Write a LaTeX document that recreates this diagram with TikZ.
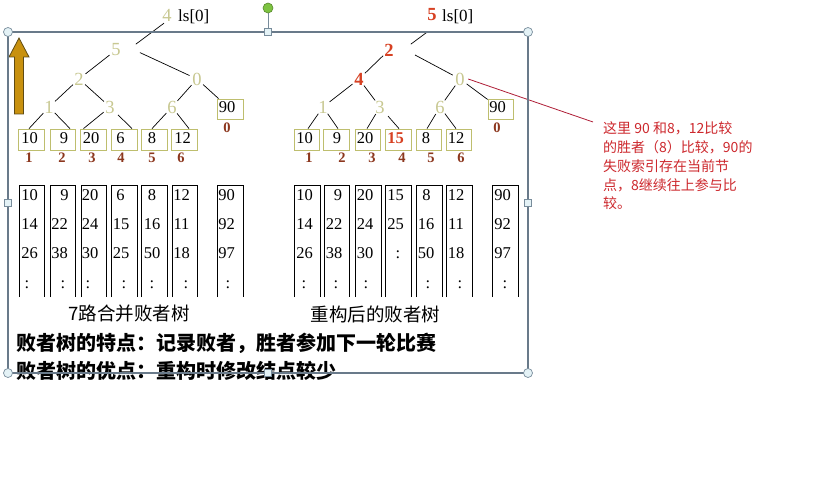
\documentclass[tikz,border=0pt]{standalone}
\usepackage{fontspec}
\setmainfont{Liberation Serif}
\newfontfamily\cjk{Noto Sans CJK SC}
\definecolor{khaki}{RGB}{200,200,145}
\definecolor{boxc}{RGB}{190,190,110}
\definecolor{labc}{RGB}{140,55,30}
\definecolor{redb}{RGB}{215,65,35}
\definecolor{annc}{RGB}{205,40,45}
\definecolor{annl}{RGB}{175,30,55}
\definecolor{arrf}{RGB}{200,145,15}
\definecolor{arrd}{RGB}{95,75,20}
\definecolor{framec}{RGB}{105,122,138}
\definecolor{handf}{RGB}{228,242,246}
\definecolor{handd}{RGB}{120,140,155}
\definecolor{greenh}{RGB}{125,195,65}
\begin{document}
\begin{tikzpicture}[x=1pt,y=-1pt,
  tnum/.style={circle,inner sep=0pt,minimum size=16pt,text=khaki,font=\fontsize{18.5}{18.5}\selectfont},
  rnum/.style={tnum,text=redb,font=\fontsize{18.5}{18.5}\selectfont\bfseries},
  lsl/.style={anchor=base west,inner sep=0pt,font=\fontsize{17}{17}\selectfont},
  leafbox/.style={draw=boxc,line width=0.8pt,minimum width=25.5pt,minimum height=21pt,inner sep=0pt},
  btxt/.style={anchor=base,inner sep=0pt,font=\fontsize{16.5}{16.5}\selectfont},
  labtxt/.style={inner sep=0pt,text=labc,font=\fontsize{14.5}{14.5}\selectfont\bfseries},
  celltxt/.style={anchor=base,inner sep=0pt,font=\fontsize{16.5}{16.5}\selectfont},
  colline/.style={draw=black,line width=0.9pt},
  tline/.style={draw=black,line width=0.7pt},
  captxt/.style={inner sep=0pt,font=\cjk\fontsize{18.5}{18.5}\selectfont},
  boldtxt/.style={anchor=west,inner sep=0pt,font=\cjk\bfseries\fontsize{20}{20}\selectfont},
  anntxt/.style={anchor=base west,inner sep=0pt,text=annc,font=\cjk\fontsize{14}{14}\selectfont},
  handlemark/.style={fill=handf,draw=handd,line width=0.7pt}
]
\fill[white] (0,0) rectangle (816,494);
\useasboundingbox (0,0) rectangle (816,494);

% golden arrow
\filldraw[fill=arrf,draw=arrd,line width=0.8pt] (19,38) -- (29,57) -- (23.5,57) -- (23.5,114) -- (14.5,114) -- (14.5,57) -- (9,57) -- cycle;

% ---------------- left tree ----------------
\node[tnum] (L4) at (167,15) {4};
\node[lsl] (Lls) at (178,21.3) {ls[0]};
\node[tnum] (L5) at (116,50) {5};
\node[tnum] (L2) at (79,79) {2};
\node[tnum] (L0) at (197,79) {0};
\node[tnum] (L1) at (49,107) {1};
\node[tnum] (L3) at (110,107) {3};
\node[tnum] (L6) at (172,107) {6};
\node[leafbox,minimum width=26pt,minimum height=20pt] (Lb0) at (230,109) {};
\node[leafbox] (Lb1) at (31.5,139.5) {};
\node[leafbox] (Lb2) at (63,139.5) {};
\node[leafbox] (Lb3) at (93.5,139.5) {};
\node[leafbox] (Lb4) at (124.5,139.5) {};
\node[leafbox] (Lb5) at (154.5,139.5) {};
\node[leafbox] (Lb6) at (184.5,139.5) {};
\node[btxt] (Lt0) at (227,112.8) {90};
\node[btxt] (Lt1) at (29.5,143.2) {10};
\node[btxt] (Lt2) at (64,143.2) {9};
\node[btxt] (Lt3) at (91,143.2) {20};
\node[btxt] (Lt4) at (120.5,143.2) {6};
\node[btxt] (Lt5) at (152,143.2) {8};
\node[btxt] (Lt6) at (182.5,143.2) {12};
\node[labtxt] (Ll0) at (227,128) {0};
\node[labtxt] (Ll1) at (29,158) {1};
\node[labtxt] (Ll2) at (62,158) {2};
\node[labtxt] (Ll3) at (92,158) {3};
\node[labtxt] (Ll4) at (121,158) {4};
\node[labtxt] (Ll5) at (152,158) {5};
\node[labtxt] (Ll6) at (181,158) {6};

\draw[tline] ([xshift=-3pt]L4.south) -- ([xshift=14pt]L5.north east);
\draw[tline] (L5) -- (L2);
\draw[tline,shorten <=20pt] (L5.north east) -- (L0);
\draw[tline] (L2) -- (L1);
\draw[tline] (L2) -- (L3);
\draw[tline] (L0) -- (L6);
\draw[tline] (L0) -- (Lb0);
\draw[tline] (L1) -- ([xshift=-2.5pt]Lb1.north);
\draw[tline] (L1) -- ([xshift=7pt]Lb2.north);
\draw[tline] (L3) -- ([xshift=-10pt]Lb3.north);
\draw[tline,shorten <=3pt] (L3) -- ([xshift=7.5pt]Lb4.north);
\draw[tline] (L6) -- ([xshift=-2.5pt]Lb5.north);
\draw[tline] (L6) -- ([xshift=4.5pt]Lb6.north);

% ---------------- right tree ----------------
\node[rnum] (R5) at (432,15) {5};
\node[lsl] (Rls) at (442,21.5) {ls[0]};
\node[rnum] (R2) at (389,50) {2};
\node[rnum] (R4) at (359,79) {4};
\node[tnum] (R0) at (460,79) {0};
\node[tnum] (R1) at (323,107) {1};
\node[tnum] (R3) at (380,107) {3};
\node[tnum] (R6) at (440,107) {6};
\node[leafbox,minimum width=25pt,minimum height=20pt] (Rb0) at (500.5,109) {};
\node[leafbox] (Rb1) at (307,139.5) {};
\node[leafbox] (Rb2) at (336.5,139.5) {};
\node[leafbox] (Rb3) at (368,139.5) {};
\node[leafbox] (Rb4) at (398.5,139.5) {};
\node[leafbox] (Rb5) at (429,139.5) {};
\node[leafbox] (Rb6) at (459,139.5) {};
\node[btxt] (Rt0) at (497.5,112.8) {90};
\node[btxt] (Rt1) at (304.5,143.2) {10};
\node[btxt] (Rt2) at (337,143.2) {9};
\node[btxt] (Rt3) at (365,143.2) {20};
\node[btxt,text=redb,font=\fontsize{16.5}{16.5}\selectfont\bfseries] (Rt4) at (395.5,143.2) {15};
\node[btxt] (Rt5) at (426,143.2) {8};
\node[btxt] (Rt6) at (456,143.2) {12};
\node[labtxt] (Rl0) at (497,128) {0};
\node[labtxt] (Rl1) at (309,158) {1};
\node[labtxt] (Rl2) at (342,158) {2};
\node[labtxt] (Rl3) at (372,158) {3};
\node[labtxt] (Rl4) at (402,158) {4};
\node[labtxt] (Rl5) at (431,158) {5};
\node[labtxt] (Rl6) at (461,158) {6};

\draw[tline] ([xshift=-5pt,yshift=-9pt]R5.south) -- ([xshift=16pt]R2.north east);
\draw[tline] (R2) -- (R4);
\draw[tline,shorten <=23pt] (R2.north east) -- (R0);
\draw[tline] (R4) -- (R1);
\draw[tline] (R4) -- (R3);
\draw[tline] (R0) -- (R6);
\draw[tline] (R0) -- (Rb0);
\draw[tline] (R1) -- ([xshift=1pt]Rb1.north);
\draw[tline] (R1) -- ([xshift=1.5pt]Rb2.north);
\draw[tline] (R3) -- ([xshift=-1pt]Rb3.north);
\draw[tline,shorten <=4pt] (R3) -- ([xshift=0.5pt]Rb4.north);
\draw[tline] (R6) -- ([xshift=-2pt]Rb5.north);
\draw[tline] (R6) -- ([xshift=-3pt]Rb6.north);

% ---------------- run columns ----------------
\foreach \a/\b in {19/44,50/75,81/106,111/137,141/167,172/197,217/243,
                   294/320,324/349,355/381,385/411,416/442,446/472,492/518}
  \draw[colline] (\a,297) -- (\a,185) -- (\b,185) -- (\b,297);

\foreach \cx/\cy/\ct [count=\i] in {
  29.5/200.5/10, 29.5/229.5/14, 29.5/258.5/26, 27/288.5/:,
  64.5/200.5/9, 59.5/229.5/22, 59.5/258.5/38, 63/288.5/:,
  90/200.5/20, 90/229.5/24, 90/258.5/30, 88/288.5/:,
  120.5/200.5/6, 121/229.5/15, 121/258.5/25, 124/288.5/:,
  152/200.5/8, 152/229.5/16, 152/258.5/50, 152/288.5/:,
  181.5/200.5/12, 181.5/229.5/11, 181.5/258.5/18, 186/288.5/:,
  226.5/200.5/90, 226.5/229.5/92, 226.5/258.5/97, 228/288.5/:}
  \node[celltxt] (lc\i) at (\cx,\cy) {\ct};

\foreach \cx/\cy/\ct [count=\i] in {
  304.5/200.5/10, 304.5/229.5/14, 304.5/258.5/26, 304/288.5/:,
  338/200.5/9, 334/229.5/22, 334/258.5/38, 336/288.5/:,
  365/200.5/20, 365/229.5/24, 365/258.5/30, 366/288.5/:,
  395.5/200.5/15, 395.5/229.5/25, 398/258.5/:,
  426.5/200.5/8, 426/229.5/16, 426/258.5/50, 428/288.5/:,
  456/200.5/12, 456/229.5/11, 456/258.5/18, 460/288.5/:,
  502.5/200.5/90, 502.5/229.5/92, 502.5/258.5/97, 505/288.5/:}
  \node[celltxt] (rc\i) at (\cx,\cy) {\ct};

% ---------------- captions ----------------
\node[captxt] (capL) at (129,314) {7路合并败者树};
\node[captxt] (capR) at (375.5,314) {重构后的败者树};
\node[boldtxt] (txt1) at (16,343.5) {败者树的特点：记录败者，胜者参加下一轮比赛};
\node[boldtxt] (txt2) at (16,370.5) {败者树的优点：重构时修改结点较少};

% ---------------- annotation ----------------
\node[anntxt] (an1) at (603,133.3) {这里 90 和8，12比较};
\node[anntxt] (an2) at (603,152.3) {的胜者（8）比较，90的};
\node[anntxt] (an3) at (603,171.3) {失败索引存在当前节};
\node[anntxt] (an4) at (603,190.3) {点，8继续往上参与比};
\node[anntxt] (an5) at (603,208.3) {较。};
\coordinate (annpt) at (593,122);
\draw[annl,line width=0.8pt] (R0.east) -- (annpt);

% ---------------- selection frame ----------------
\draw[framec,line width=1.1pt] (8,32) rectangle (528,373);
\draw[handd,line width=1pt] (268,13) -- (268,28.5);
\filldraw[fill=greenh,draw=greenh!70!black,line width=0.6pt] (268,8) circle (5);
\foreach \hx/\hy in {8/32,528/32,8/373,528/373}
  \filldraw[handlemark] (\hx,\hy) circle (4.5);
\foreach \hx/\hy in {268/32,8/203,528/203,268/373}
  \filldraw[handlemark] (\hx-3.5,\hy-3.5) rectangle (\hx+3.5,\hy+3.5);
\end{tikzpicture}
\end{document}
